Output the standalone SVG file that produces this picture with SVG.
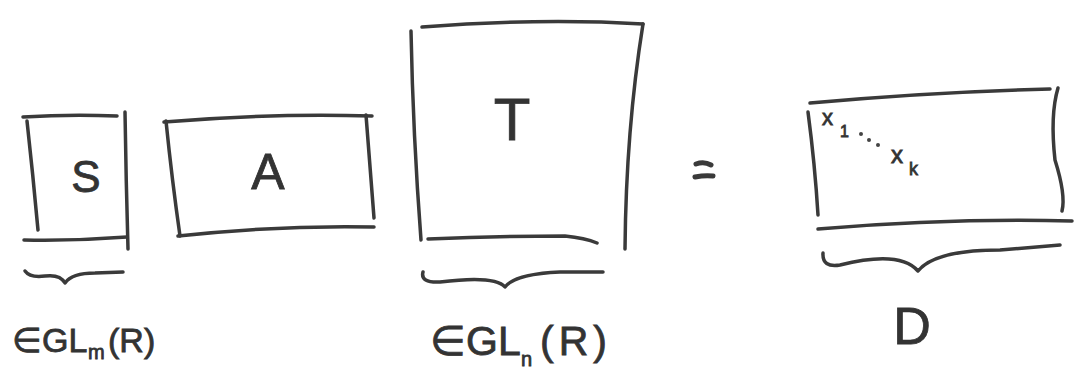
<svg xmlns="http://www.w3.org/2000/svg" width="1080" height="371" viewBox="0 0 1080 371">
<style>
.ln{fill:none;stroke:#3a3a3a;stroke-width:3.5;stroke-linecap:round;stroke-linejoin:round}
.tx{font-family:"Liberation Sans",Arial,sans-serif;fill:#333;stroke:#333;stroke-width:0.8}
</style>
<rect width="1080" height="371" fill="#ffffff"/>
<g id="S">
<path class="ln" d="M23,117 Q70,114 117,116"/>
<path class="ln" d="M27,121 Q33,175 38,230"/>
<path class="ln" d="M125,112 Q126,180 128,249"/>
<path class="ln" d="M24,240 Q75,241 127,237"/>
<text class="tx" x="86" y="192" font-size="44" text-anchor="middle">S</text>
</g>
<g id="A">
<path class="ln" d="M164,122 Q270,113 372,116"/>
<path class="ln" d="M166,121 Q172,180 180,236"/>
<path class="ln" d="M366,115 Q370,165 374,218"/>
<path class="ln" d="M178,236 Q280,225 374,227"/>
<text class="tx" x="268" y="189" font-size="50" text-anchor="middle">A</text>
</g>
<g id="T">
<path class="ln" d="M422,27 Q540,18 643,24"/>
<path class="ln" d="M411,31 Q413,135 421,240"/>
<path class="ln" d="M643,24 Q626,130 625,249"/>
<path class="ln" d="M428,239 Q500,236 565,236 Q585,238 597,243"/>
<text class="tx" x="512" y="140" font-size="60" text-anchor="middle">T</text>
</g>
<g id="eq">
<path class="ln" style="stroke-width:5" d="M696,164 Q704,161 711,165"/>
<path class="ln" style="stroke-width:5" d="M695,177 Q705,175 713,176"/>
</g>
<g id="D">
<path class="ln" d="M810,103 Q930,92 1050,89"/>
<path class="ln" d="M808,112 Q815,165 818,215"/>
<path class="ln" d="M1058,88 Q1050,115 1055,160 Q1066,195 1062,211"/>
<path class="ln" d="M818,229 Q950,218 1072,221"/>
<text class="tx" font-size="22" x="822" y="125">x<tspan font-size="16" x="840" y="137">1</tspan></text>
<circle cx="861" cy="134" r="2" fill="#444"/>
<circle cx="869" cy="140" r="2" fill="#444"/>
<circle cx="878" cy="145" r="2" fill="#444"/>
<text class="tx" font-size="24" x="891" y="163">x<tspan font-size="18" x="909" y="175">k</tspan></text>
</g>
<g id="braces">
<path class="ln" d="M25,271 Q30,278 45,276 Q60,274 65,283 Q72,273 95,273 L123,272"/>
<path class="ln" d="M423,272 Q420,283 440,282 Q495,275 505,287 Q515,274 560,272 L603,272"/>
<path class="ln" d="M823,253 Q822,268 840,265 Q900,250 918,271 Q935,250 1000,250 L1060,245"/>
</g>
<g id="labels">
<text class="tx" font-size="34" x="12" y="352">∈GL<tspan font-size="20" x="88" y="359">m</tspan><tspan x="108" y="352">(R)</tspan></text>
<text class="tx" font-size="41" x="430" y="355">∈GL<tspan font-size="20" x="521" y="366">n</tspan><tspan x="540" y="355" letter-spacing="5">(R)</tspan></text>
<text class="tx" font-size="52" x="912" y="344" text-anchor="middle">D</text>
</g>
</svg>
